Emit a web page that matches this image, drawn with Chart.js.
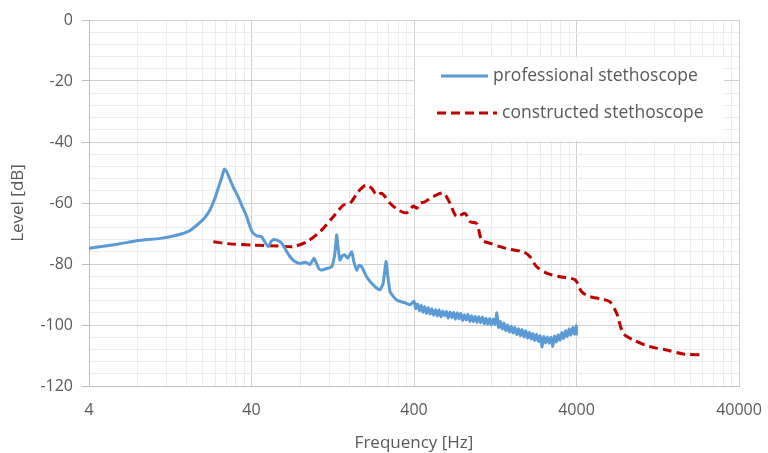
<!DOCTYPE html>
<html>
<head>
<meta charset="utf-8">
<script src="https://cdn.jsdelivr.net/npm/chart.js@4.4.0/dist/chart.umd.min.js"></script>
<style>
  html, body { margin: 0; padding: 0; background: #fff; }
  #wrap { width: 768px; height: 453px; }
</style>
</head>
<body>
<div id="wrap"><canvas id="myChart"></canvas></div>
<script>
// professional stethoscope: frequency [Hz] / level [dB]
var proFreq = [4, 6, 8, 11, 14, 16.5, 18.4, 20.5, 22.2, 24, 25, 26.3, 27.2, 28.2, 29.5, 31, 33, 35, 37.4, 39, 40.5,
  43, 46, 48, 50.7, 53, 55, 60, 62.6, 66, 69, 74, 79.5, 86, 91.6, 97, 100, 104, 108, 116, 124.7, 130, 133.7, 136, 140,
  145, 150, 156, 165.5, 171, 177.6, 184, 190.6, 197, 204.6, 215, 230, 240, 247, 258, 269, 276, 285, 298, 313, 330,
  355, 378,
  400, 410, 421, 432, 443, 454, 466, 478, 490, 503, 516, 529, 543, 557, 571, 586, 601, 617, 633, 649, 666, 683, 701,
  719, 738, 757, 776, 796, 817, 838, 860, 882, 905, 928, 952, 977, 1002, 1028, 1055, 1082, 1110, 1139, 1168, 1198,
  1229, 1261, 1294, 1327, 1362, 1397, 1433, 1470, 1508, 1547, 1587, 1628, 1670, 1714, 1758, 1804, 1850, 1898, 1947,
  1998, 2050, 2103, 2157, 2213, 2270, 2329, 2389, 2451, 2515, 2580, 2647, 2715, 2786, 2858, 2932, 3008, 3086, 3166,
  3248, 3332, 3418, 3507, 3598, 3691, 3787, 3885, 3985, 3995, 4000];
var proLevel = [-74.8, -73.5, -72.3, -71.6, -70.5, -69.2, -67.3, -65, -62.3, -58, -55, -51.5, -48.9, -49.8, -52.3, -55, -57.8, -61, -64.5, -67.5, -69.5,
  -70.8, -71, -72.5, -74.3, -72.5, -72, -72.7, -73.8, -76, -77.6, -79.2, -79.8, -79.4, -80.2, -78.1, -79.5, -81.6, -82, -81.5, -80.9, -77, -70.5, -74, -78.7,
  -77.3, -77, -78.1, -76, -79.5, -82, -80.4, -80.9, -82.5, -84.2, -85.8, -87.4, -88.2, -88.5, -86.5, -79.2, -84, -89.1, -90.6, -91.8, -92.3,
  -92.8, -93.4,
  -92.2, -94.6, -93.1, -95.3, -93.6, -95.8, -94.0, -96.2, -94.3, -96.4, -94.7, -96.8, -95.0, -97.1, -95.0, -97.3, -95.4, -97.0, -95.6, -97.8, -95.7, -97.6, -95.9,
  -98.1, -96.0, -98.0, -96.2, -98.5, -96.6, -98.4, -96.5, -98.8, -97.0, -98.9, -97.1, -99.2, -97.3, -99.3, -97.4, -99.6, -97.8, -99.8, -97.9, -100.0,
  -98.0, -99.8, -96.0, -100.8, -98.9, -101.3, -99.4, -101.9, -100.0, -102.3, -100.4, -102.6, -100.8, -103.1, -101.2, -103.5, -101.5, -103.9, -101.9,
  -104.3, -102.4, -104.6, -102.8, -105.1, -103.0, -105.4, -103.5, -107.2, -103.8, -105.9, -103.9, -106.0, -104.0, -107.0, -103.6, -105.6, -103.2, -105.0,
  -102.5, -104.4, -101.9, -103.8, -101.3, -103.3, -100.8, -102.9, -100.2, -103.0, -100.4];

// constructed stethoscope
var conFreq = [23.3, 29.5, 41, 60, 72.4, 87.5, 105.6, 127.5, 146.9, 161.5, 181.7, 202.7, 219.6, 235.7, 253, 284.9, 320,
  360.8, 396, 416, 435.6, 467.5, 526, 605.7, 666, 732, 824, 885, 972, 1044, 1174, 1352, 1560, 1883, 2069, 2276, 2623,
  3165, 3916, 4305, 4844, 5848, 6428, 7069, 7765, 8953, 11336, 14360, 18164, 24120];
var conLevel = [-72.7, -73.4, -73.8, -74.1, -74.3, -72.7, -69.4, -64.5, -60.7, -60.1, -56.3, -54.1, -55.2, -57.4, -56.8, -60.1, -62.3,
  -63.2, -61, -61.7, -60.1, -59.6, -57.9, -56.8, -60.1, -64.5, -63.4, -66.1, -66.7, -72.1, -73.2, -74.3, -75.2, -76, -77.6, -80.9, -83,
  -84.2, -85.2, -89.1, -90.7, -91.6, -92.4, -96.2, -102.7, -104.9, -107.1, -108.2, -109.5, -109.8];

var seriesNames = ['professional stethoscope', 'constructed stethoscope'];
var xLabels = [4, 40, 400, 4000, 40000];
var yLabels = [0, -20, -40, -60, -80, -100, -120];

// minor grid: every multiple of 4 inside each decade
var xGrid = [];
xLabels.forEach(function (d, i) {
  if (i === xLabels.length - 1) { xGrid.push(d); return; }
  for (var k = 1; k < 10; k++) xGrid.push(d * k);
});

var textColor = '#595959';
var font = "'Open Sans', sans-serif";

// legend drawn as a white box inside the plot
const boxLegend = {
  id: 'boxLegend',
  afterDatasetsDraw(chart) {
    const ctx = chart.ctx;
    ctx.save();
    ctx.fillStyle = '#fff';
    ctx.fillRect(415, 58, 309, 83);
    const rows = [{ y: 76, x0: 441, x1: 488, tx: 493 }, { y: 113, x0: 437, x1: 497, tx: 502 }];
    chart.data.datasets.forEach(function (ds, i) {
      const r = rows[i];
      ctx.strokeStyle = ds.borderColor;
      ctx.lineWidth = ds.borderWidth;
      ctx.setLineDash(ds.borderDash || []);
      ctx.beginPath();
      ctx.moveTo(r.x0, r.y);
      ctx.lineTo(r.x1, r.y);
      ctx.stroke();
      ctx.setLineDash([]);
      ctx.fillStyle = textColor;
      ctx.font = '17.5px ' + font;
      ctx.textBaseline = 'middle';
      ctx.fillText(ds.label, r.tx, r.y);
    });
    ctx.restore();
  }
};

function pts(xs, ys) { return xs.map(function (x, i) { return { x: x, y: ys[i] }; }); }

const data = {
  datasets: [
    { label: seriesNames[0], data: pts(proFreq, proLevel), borderColor: '#5b9bd5', borderWidth: 3, pointRadius: 0, tension: 0.15 },
    { label: seriesNames[1], data: pts(conFreq, conLevel), borderColor: '#c00000', borderWidth: 3, borderDash: [9, 5], pointRadius: 0, tension: 0.3 }
  ]
};

const config = {
  type: 'line',
  data: data,
  plugins: [boxLegend],
  options: {
    responsive: true,
    maintainAspectRatio: false,
    animation: false,
    layout: { padding: { top: 20, right: 29, left: 0, bottom: 0 } },
    plugins: { legend: { display: false }, tooltip: { enabled: false } },
    scales: {
      x: {
        type: 'logarithmic', min: 4, max: 40000,
        afterBuildTicks: function (s) { s.ticks = xGrid.map(function (v) { return { value: v }; }); },
        afterFit: function (s) { s.height = 67; s.paddingRight = 0; s.paddingLeft = 0; },
        border: { color: '#bfbfbf', width: 1 },
        grid: {
          color: function (c) { return c.tick && xLabels.indexOf(c.tick.value) >= 0 ? '#d0d0d0' : '#ececec'; },
          tickLength: 0
        },
        ticks: {
          autoSkip: false, maxRotation: 0, padding: 15, color: textColor, font: { family: font, size: 16 },
          callback: function (v) { return xLabels.indexOf(v) >= 0 ? String(v) : ''; }
        },
        title: { display: true, text: 'Frequency [Hz]', color: textColor, font: { family: font, size: 17 }, padding: { top: 8, bottom: 0 } }
      },
      y: {
        min: -120, max: 0,
        afterBuildTicks: function (s) {
          var t = [];
          for (var v = -120; v <= 0; v += 4) t.push({ value: v });
          s.ticks = t;
        },
        afterFit: function (s) { s.width = 89; },
        border: { color: '#bfbfbf', width: 1 },
        grid: {
          color: function (c) { return c.tick && yLabels.indexOf(c.tick.value) >= 0 ? '#d0d0d0' : '#ececec'; },
          tickColor: function (c) { return c.tick && yLabels.indexOf(c.tick.value) >= 0 ? '#bfbfbf' : 'rgba(0,0,0,0)'; },
          tickLength: 7
        },
        ticks: {
          autoSkip: false, padding: 9, color: textColor, font: { family: font, size: 16 },
          callback: function (v) { return yLabels.indexOf(v) >= 0 ? String(v) : ''; }
        },
        title: { display: true, text: 'Level [dB]', color: textColor, font: { family: font, size: 17 }, padding: { top: 8, bottom: 0 } }
      }
    }
  }
};

const myChart = new Chart(document.querySelector('#myChart'), config);
</script>
</body>
</html>
